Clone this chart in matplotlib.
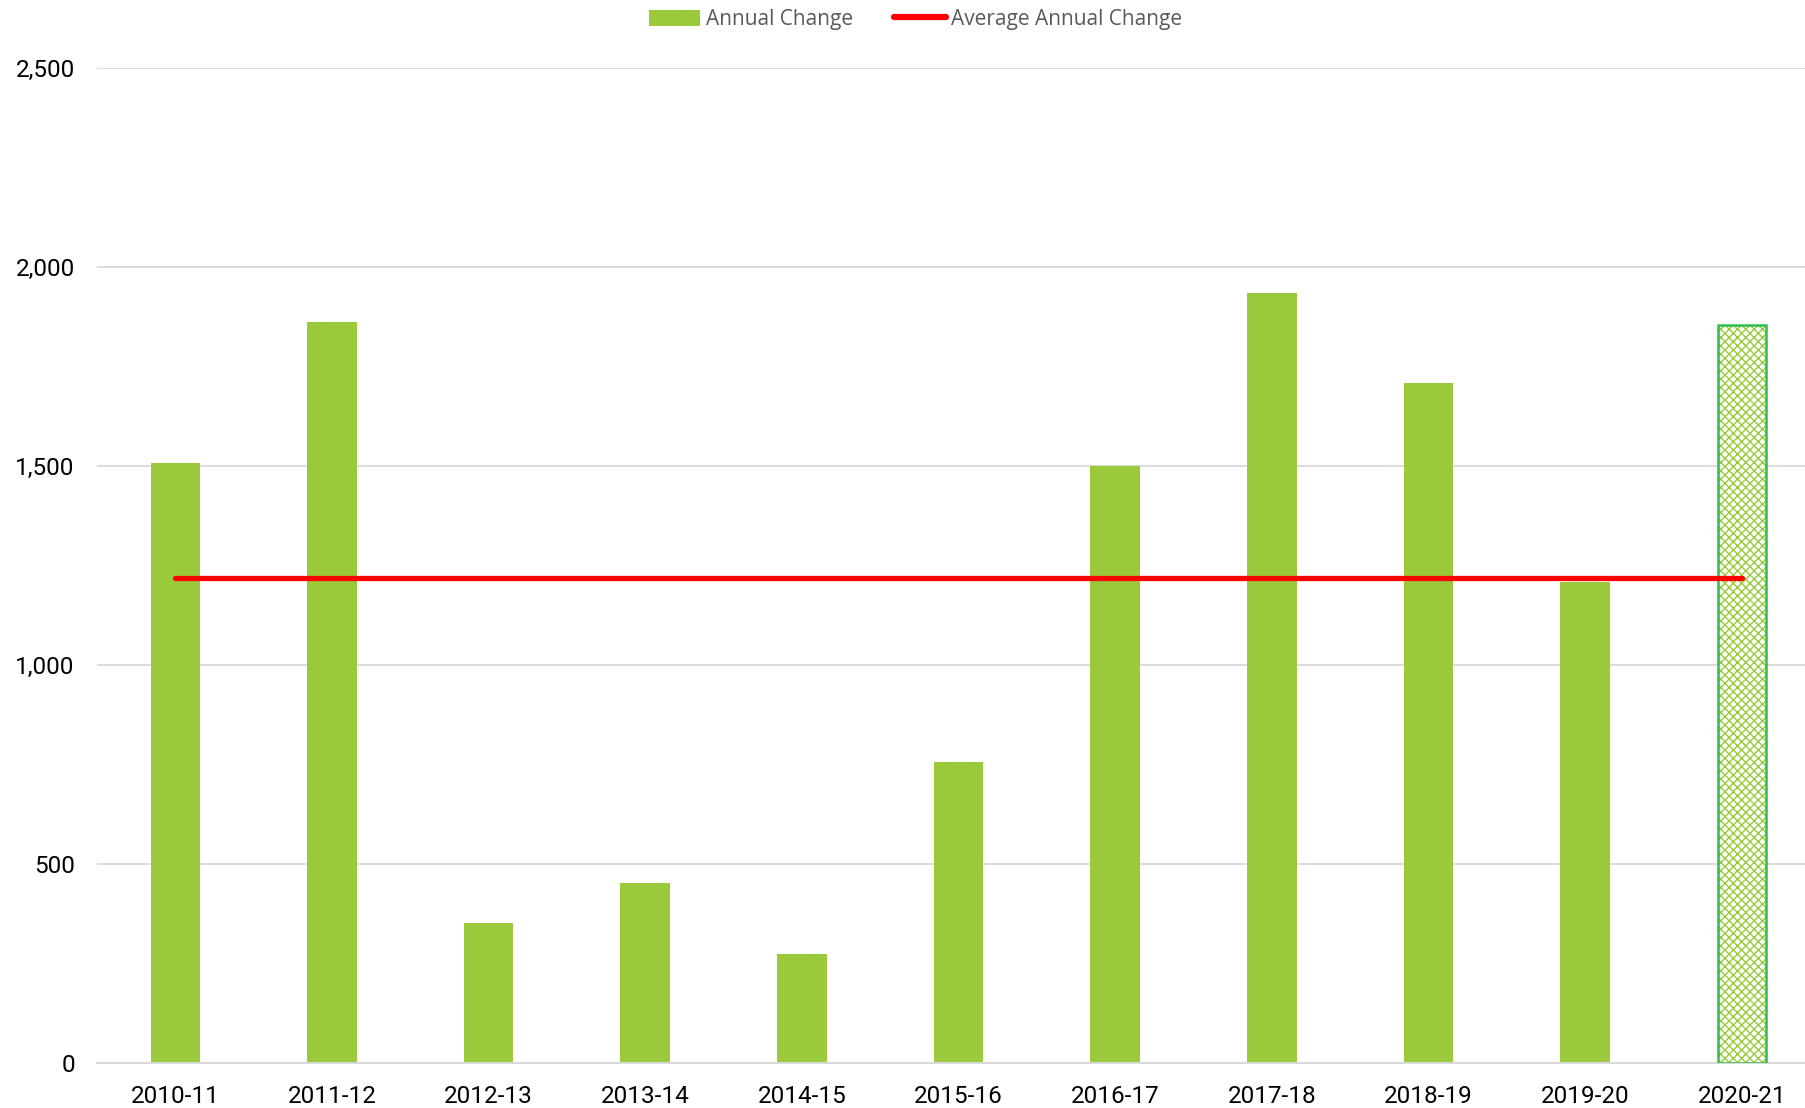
import matplotlib
matplotlib.use("Agg")
import matplotlib.pyplot as plt
from matplotlib.patches import Patch
from matplotlib.lines import Line2D
from matplotlib.ticker import FuncFormatter

categories = ["2010-11", "2011-12", "2012-13", "2013-14", "2014-15", "2015-16",
              "2016-17", "2017-18", "2018-19", "2019-20", "2020-21"]
annual_change = [1508, 1861, 351, 452, 273, 756, 1500, 1934, 1708, 1208, 1854]
average_change = [1218] * len(categories)
projected = [False] * 10 + [True]

GREEN = "#9ACA3C"
DARKGREEN = "#2DBE4E"
RED = "#FF0000"

fig = plt.figure(figsize=(18.06, 11.08), dpi=100)
ax = fig.add_axes([0.0537, 0.0406, 0.9463, 0.898])

x = list(range(len(categories)))
solid_x = [i for i in x if not projected[i]]
solid_v = [annual_change[i] for i in x if not projected[i]]
proj_x = [i for i in x if projected[i]]
proj_v = [annual_change[i] for i in x if projected[i]]

ax.bar(solid_x, solid_v, width=0.316, color=GREEN, zorder=2)
ax.bar(proj_x, proj_v, width=0.306, color="white", edgecolor=GREEN,
       hatch="xxxx", linewidth=0, zorder=2)
ax.bar(proj_x, proj_v, width=0.306, fill=False, edgecolor=DARKGREEN,
       linewidth=1.8, zorder=3)

ax.plot(x, average_change, color=RED, linewidth=3.8, solid_capstyle="round", zorder=4)

ax.set_xlim(-0.5, 10.41)
ax.set_ylim(0, 2500)
ax.set_yticks([0, 500, 1000, 1500, 2000, 2500])
ax.yaxis.set_major_formatter(FuncFormatter(lambda v, p: f"{int(v):,}"))
ax.set_xticks(x)
ax.set_xticklabels(categories)

ax.grid(axis="y", color="#D9D9D9", linewidth=1.3, zorder=0)
ax.set_axisbelow(True)
for s in ["top", "right", "left"]:
    ax.spines[s].set_visible(False)
ax.spines["bottom"].set_color("#D9D9D9")
ax.spines["bottom"].set_linewidth(1.5)
ax.tick_params(axis="both", length=0, labelsize=17.5, colors="black")
ax.tick_params(axis="y", pad=16)
ax.tick_params(axis="x", pad=15.5)
for lab in ax.get_xticklabels() + ax.get_yticklabels():
    lab.set_fontfamily("Roboto")

handles = [Patch(facecolor=GREEN, edgecolor="none"),
           Line2D([0], [0], color=RED, linewidth=4.5, solid_capstyle="round")]
leg = fig.legend(handles, ["Annual Change", "Average Annual Change"],
                 loc="center", bbox_to_anchor=(0.507, 0.9825), ncol=2, frameon=False,
                 prop={"family": "Open Sans", "size": 15},
                 handlelength=2.45, handleheight=0.8, handletextpad=0.25,
                 columnspacing=2.0, labelcolor="#595959")

fig.savefig("out.png", dpi=100)
